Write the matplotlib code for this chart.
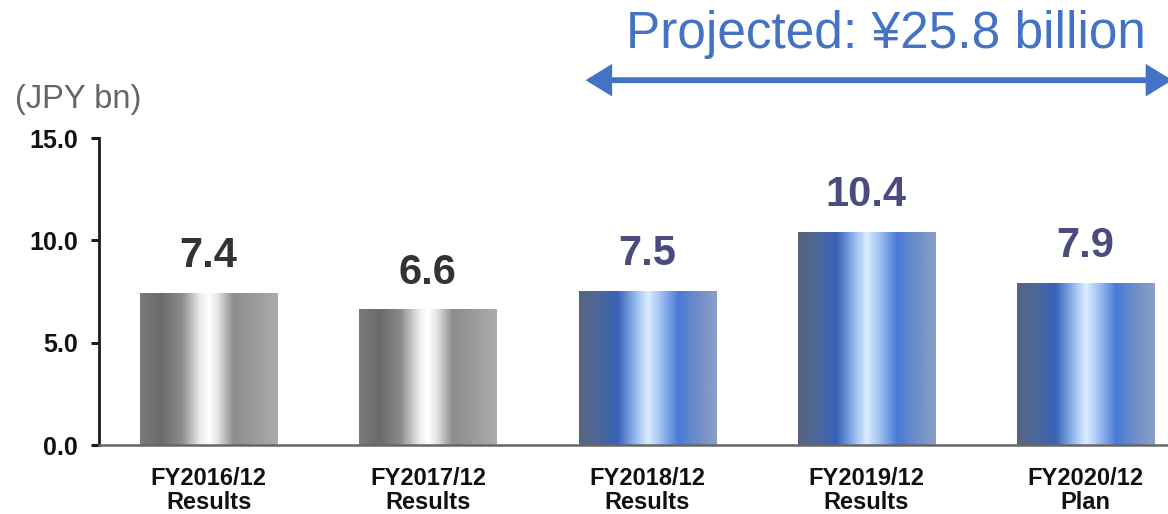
import numpy as np
import matplotlib
matplotlib.use("Agg")
import matplotlib.pyplot as plt
from matplotlib.colors import LinearSegmentedColormap
from matplotlib.patches import FancyArrowPatch

# --- data ---
categories = ["FY2016/12\nResults", "FY2017/12\nResults", "FY2018/12\nResults",
              "FY2019/12\nResults", "FY2020/12\nPlan"]
values = [7.4, 6.6, 7.5, 10.4, 7.9]
bar_styles = ["grey", "grey", "blue", "blue", "blue"]
y_ticks = [0, 5, 10, 15]
unit_label = "(JPY bn)"
projection_text = "Projected: ¥25.8 billion"

# --- styles ---
cmaps = {
    "grey": LinearSegmentedColormap.from_list("metal_grey", [
        (0.00, "#7b7b7b"), (0.15, "#6b6b6b"), (0.30, "#8a8a8a"),
        (0.44, "#eeeeee"), (0.50, "#ffffff"), (0.56, "#e6e6e6"),
        (0.68, "#8c8c8c"), (0.85, "#9d9d9d"), (1.00, "#acacac")]),
    "blue": LinearSegmentedColormap.from_list("metal_blue", [
        (0.00, "#56647e"), (0.12, "#4f6896"), (0.28, "#3862b8"),
        (0.42, "#9dc0f0"), (0.50, "#dcecff"), (0.58, "#a8c8f4"),
        (0.72, "#4a7ad8"), (0.86, "#6e8ec8"), (1.00, "#8aa0c8")]),
}
label_colors = {"grey": "#333333", "blue": "#4b4b7d"}
accent = "#4472C4"
bold_font = ["Liberation Sans", "DejaVu Sans"]

fig = plt.figure(figsize=(11.68, 5.14), dpi=100)
ax = fig.add_axes([0.0848, 0.1342, 0.9152, 0.5973])

x = np.arange(len(values))
bars = ax.bar(x, values, width=0.625, color="none", edgecolor="none", zorder=2)

grad = np.linspace(0, 1, 256).reshape(1, -1)
for bar, style, v in zip(bars, bar_styles, values):
    x0, y0 = bar.get_x(), bar.get_y()
    w, h = bar.get_width(), bar.get_height()
    ax.imshow(grad, cmap=cmaps[style], extent=(x0, x0 + w, y0, y0 + h),
              aspect="auto", interpolation="bilinear", zorder=2)
    ax.annotate(f"{v:.1f}", (x0 + w / 2, y0 + h), xytext=(0, 19),
                textcoords="offset points", ha="center", va="baseline",
                fontsize=30, fontweight="bold", family=bold_font,
                color=label_colors[style])

ax.set_xlim(-0.50, 4.376)
ax.set_ylim(0, 15)

ax.set_yticks(y_ticks)
ax.set_yticklabels([f"{t:.1f}" for t in y_ticks], fontsize=18,
                   fontweight="bold", family=bold_font, color="#111111")
ax.set_xticks(x)
ax.set_xticklabels(categories, fontsize=17, fontweight="bold",
                   family=bold_font, color="#111111", linespacing=1.05)

ax.tick_params(axis="y", direction="out", length=6, width=2.2,
               color="#1a1a1a", pad=9)
ax.tick_params(axis="x", length=0, pad=16)

for side in ("top", "right"):
    ax.spines[side].set_visible(False)
ax.spines["left"].set_color("#1a1a1a")
ax.spines["left"].set_linewidth(2.0)
ax.spines["bottom"].set_color("#666666")
ax.spines["bottom"].set_linewidth(1.8)

fig.text(0.0128, 0.806, unit_label, fontsize=23.5, color="#666666",
         family=["Liberation Sans", "DejaVu Sans"], ha="left", va="center")

fig.text(0.7585, 0.932, projection_text, fontsize=37, color=accent,
         family=["Liberation Sans", "DejaVu Sans"], ha="center", va="center")

arrow = FancyArrowPatch((0.499, 0.844), (1.006, 0.844), transform=fig.transFigure,
                        arrowstyle="<|-|>,head_length=13,head_width=8",
                        mutation_scale=1, color=accent, linewidth=4.2,
                        joinstyle="miter")
fig.patches.append(arrow)

fig.savefig("out.png", dpi=100)
